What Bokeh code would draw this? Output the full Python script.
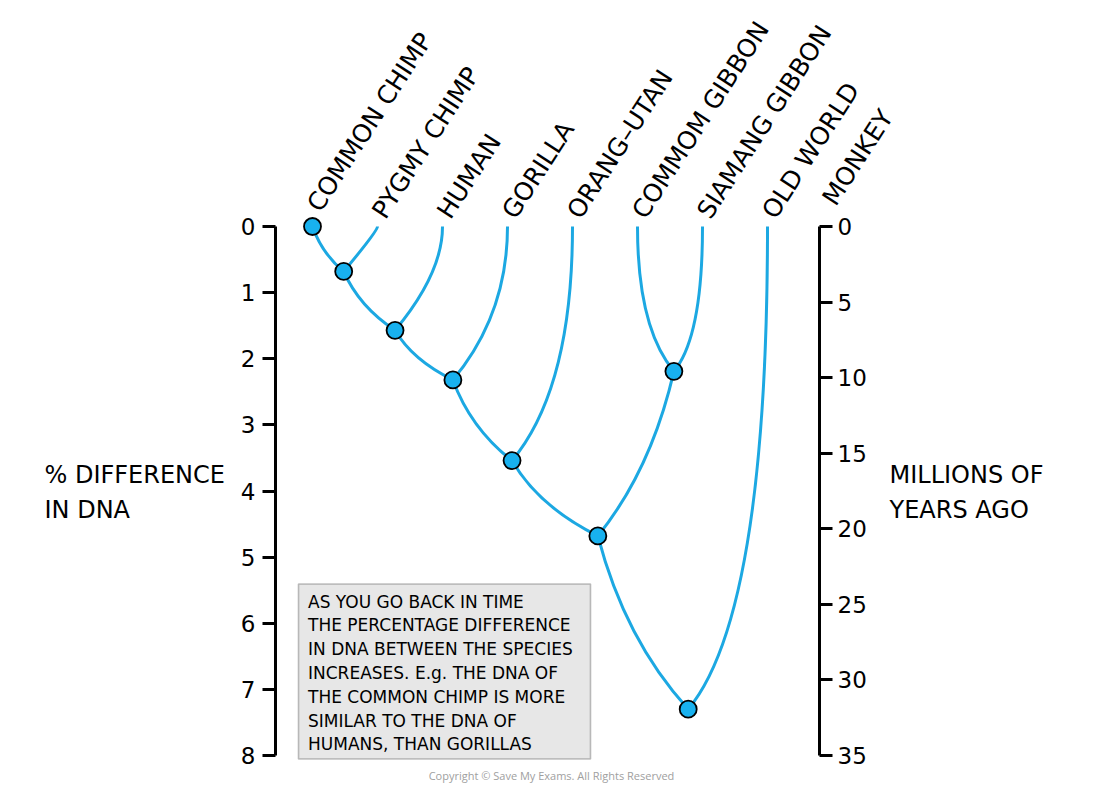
import numpy as np
from bokeh.plotting import figure
from bokeh.models import (Range1d, LinearAxis, FixedTicker, ColumnDataSource,
                          LabelSet, Label, BoxAnnotation)
from bokeh.core.properties import value
from bokeh.embed import file_html
from bokeh.resources import INLINE

# ---------------- data ----------------
leaf_names = ["COMMON CHIMP", "PYGMY CHIMP", "HUMAN", "GORILLA", "ORANG–UTAN",
              "COMMOM GIBBON", "SIAMANG GIBBON", "OLD WORLD"]
leaf_extra = "MONKEY"           # second line of the last leaf label
leaf_pos = [0, 1, 2, 3, 4, 5, 6, 7]          # horizontal slot of each species
leaf_dna = [0, 0, 0, 0, 0, 0, 0, 0]          # present day: 0 % difference

node_names = ["chimps", "human", "gorilla", "orang", "apes", "gibbons", "root"]
node_pos = [0.48, 1.27, 2.16, 3.07, 4.39, 5.56, 5.78]
node_dna = [0.68, 1.57, 2.32, 3.54, 4.68, 2.19, 7.30]

# tree edges (child, parent); leaves are "L<i>"
edges = [("L0", "chimps"), ("L1", "chimps"), ("chimps", "human"), ("L2", "human"),
         ("human", "gorilla"), ("L3", "gorilla"), ("gorilla", "orang"), ("L4", "orang"),
         ("orang", "apes"), ("L5", "gibbons"), ("L6", "gibbons"), ("gibbons", "apes"),
         ("apes", "root"), ("L7", "root")]
marked_leaves = ["L0"]          # leaves drawn with a node marker

dna_ticks = [0, 1, 2, 3, 4, 5, 6, 7, 8]
mya_ticks = [0, 5, 10, 15, 20, 25, 30, 35]
dna_max = 8
mya_max = 35

left_title = "% DIFFERENCE\nIN DNA"
right_title = "MILLIONS OF\nYEARS AGO"
note_lines = ["AS YOU GO BACK IN TIME", "THE PERCENTAGE DIFFERENCE",
              "IN DNA BETWEEN THE SPECIES", "INCREASES. E.g. THE DNA OF",
              "THE COMMON CHIMP IS MORE", "SIMILAR TO THE DNA OF",
              "HUMANS, THAN GORILLAS"]
copyright_text = "Copyright © Save My Exams. All Rights Reserved"

# ---------------- styling ----------------
LINE = "#1ca8e2"
NODE = "#18b1ef"
FONT = "DejaVu Sans"

coords = {f"L{i}": (leaf_pos[i], leaf_dna[i]) for i in range(len(leaf_pos))}
coords.update({n: (x, y) for n, x, y in zip(node_names, node_pos, node_dna)})

x0, y0, x1, y1, cxs, cys = [], [], [], [], [], []
for child, parent in edges:
    cx_, cy_ = coords[child]
    px_, py_ = coords[parent]
    dx, dy = px_ - cx_, py_ - cy_
    if child.startswith("L") and child not in marked_leaves:
        ctrl = (cx_, py_ - 1.18 * abs(dx))       # vertical at the tip
    else:
        ctrl = (cx_ + 0.3 * dx, cy_ + 0.6 * dy)  # gentle bow between nodes
    x0.append(cx_); y0.append(cy_); x1.append(px_); y1.append(py_)
    cxs.append(ctrl[0]); cys.append(ctrl[1])
edge_src = ColumnDataSource(dict(x0=x0, y0=y0, x1=x1, y1=y1, cx=cxs, cy=cys))

mx = [coords[l][0] for l in marked_leaves] + node_pos
my = [coords[l][1] for l in marked_leaves] + node_dna
node_src = ColumnDataSource(dict(x=mx, y=my))

# ---------------- figure ----------------
# frame spans almost the whole canvas; the two axes are pinned inside it
W, H = 1100, 785
PX_X, PX_Y = 65.0, 66.125            # pixels per unit (x slot, % DNA)
ORG_X, ORG_Y = 312.0, 226.0          # canvas position of (slot 0, 0 %)
BL, BR = 40, 50
x_start, x_end = (BL - ORG_X) / PX_X, (W - BR - ORG_X) / PX_X
y_top, y_bot = (0 - ORG_Y) / PX_Y, (H - ORG_Y) / PX_Y
k = mya_max / dna_max

p = figure(width=W, height=H,
           x_range=Range1d(x_start, x_end), y_range=Range1d(y_bot, y_top),
           x_axis_type=None, y_axis_type=None,
           output_backend="svg", toolbar_location=None,
           min_border_left=BL, min_border_right=BR,
           min_border_top=0, min_border_bottom=0)
p.extra_y_ranges = {"mya": Range1d(y_bot * k, y_top * k)}
p.outline_line_color = None
p.background_fill_color = "white"
p.border_fill_color = "white"

left = LinearAxis(ticker=FixedTicker(ticks=dna_ticks), bounds=(0, dna_max),
                  fixed_location=(275 - ORG_X) / PX_X)
right = LinearAxis(y_range_name="mya", ticker=FixedTicker(ticks=mya_ticks), bounds=(0, mya_max),
                   fixed_location=(819 - ORG_X) / PX_X)
for ax in (left, right):
    ax.axis_line_width = 3
    ax.axis_line_color = "black"
    ax.major_tick_line_width = 3
    ax.major_tick_line_color = "black"
    ax.major_tick_out = 13
    ax.major_tick_in = 0
    ax.minor_tick_out = 0
    ax.minor_tick_in = 0
    ax.major_label_text_font = FONT
    ax.major_label_text_font_size = "23px"
    ax.major_label_text_color = "black"
left.major_label_standoff = 7
right.major_label_standoff = 5
p.add_layout(left, "left")
p.add_layout(right, "right")

p.quadratic(x0="x0", y0="y0", x1="x1", y1="y1", cx="cx", cy="cy", source=edge_src,
            line_color=LINE, line_width=3)
p.scatter(x="x", y="y", source=node_src, size=17, fill_color=NODE,
          line_color="black", line_width=1.8)

# leaf labels
label_dy = [13 if f"L{i}" in marked_leaves else 6 for i in range(len(leaf_pos))]
lab_src = ColumnDataSource(dict(x=leaf_pos, y=leaf_dna, text=leaf_names, dy=label_dy))
p.add_layout(LabelSet(x="x", y="y", text="text", source=lab_src, y_offset="dy", x_offset=8,
                      angle=57, angle_units="deg", text_font=value(FONT),
                      text_font_size=value("25px"), text_color="black",
                      text_align="left", text_baseline="alphabetic"))
p.add_layout(Label(x=leaf_pos[-1], y=leaf_dna[-1], x_offset=61, y_offset=24,
                   text=leaf_extra, angle=57, angle_units="deg", text_font=FONT,
                   text_font_size="25px", text_color="black",
                   text_align="left", text_baseline="alphabetic"))

# axis titles
for tx, txt in (((44 - ORG_X) / PX_X, left_title), ((889 - ORG_X) / PX_X, right_title)):
    p.add_layout(Label(x=tx, y=(460 - ORG_Y) / PX_Y, text=txt, text_font=FONT,
                       text_font_size="24px", text_color="black", text_align="left",
                       text_baseline="top", text_line_height=1.26))

# note box
p.add_layout(BoxAnnotation(left=(298 - ORG_X) / PX_X, right=(590 - ORG_X) / PX_X,
                           top=(583.5 - ORG_Y) / PX_Y, bottom=(758.5 - ORG_Y) / PX_Y,
                           fill_color="#e7e7e7", fill_alpha=1.0,
                           line_color="#333333", line_width=1.6))
note_text = "\n".join(note_lines)
p.add_layout(Label(x=(307.5 - ORG_X) / PX_X, y=(591 - ORG_Y) / PX_Y, text=note_text,
                   text_font=FONT, text_font_size="17px",
                   text_color="black", text_align="left", text_baseline="top",
                   text_line_height=1.19))

p.add_layout(Label(x=(551 - ORG_X) / PX_X, y=(775 - ORG_Y) / PX_Y, text=copyright_text,
                   text_font="Open Sans", text_font_size="11px", text_color="#a0a0a0",
                   text_align="center", text_baseline="middle"))

open("out.html", "w").write(file_html(p, INLINE))
